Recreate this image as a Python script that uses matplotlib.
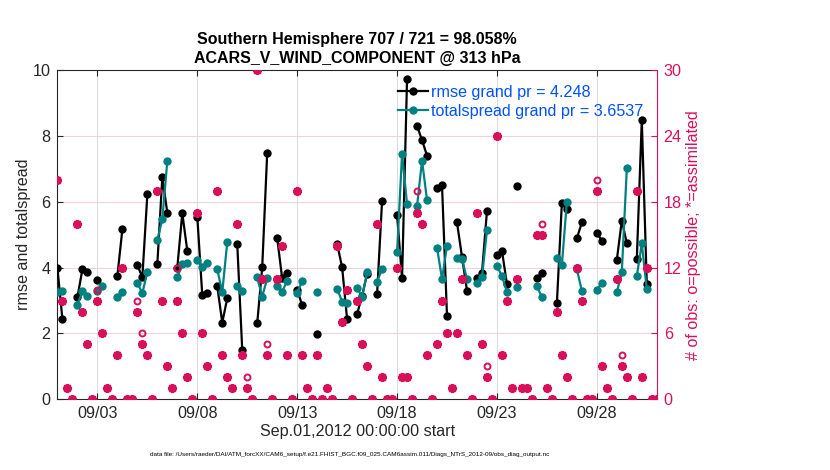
import numpy as np
import pandas as pd
import matplotlib
matplotlib.use("Agg")
import matplotlib.pyplot as plt
import matplotlib.dates as mdates

plt.rcParams['font.family'] = ['Liberation Sans', 'DejaVu Sans']

nan = np.nan

# 6-hourly bins, Sep 1 00Z .. Oct 1 00Z
times = pd.date_range("2012-09-01 00:00", "2012-10-01 00:00", freq="6h")

rmse = [
    3.98, 2.43, nan, nan, 3.10, 3.95, 3.88, nan, 3.62, nan,
    nan, nan, 3.75, 5.16, nan, nan, 4.08, 3.70, 6.22, nan,
    4.11, 6.74, 5.67, nan, 4.00, 5.65, 4.51, nan, 5.55, 3.16,
    3.22, nan, 3.44, 2.33, 3.07, nan, 4.72, 1.50, nan, nan,
    2.31, 4.01, 7.49, nan, 4.89, 3.67, 3.85, nan, 3.32, 2.86,
    nan, nan, 1.98, nan, nan, nan, 4.72, 4.01, 2.43, nan,
    2.59, 3.15, 3.80, nan, 3.19, 6.03, nan, nan, 5.60, 3.67,
    9.73, nan, 8.30, 7.87, 7.40, nan, 6.41, 6.50, 2.53, nan,
    5.37, 4.33, 3.30, nan, 3.67, 3.83, 5.72, nan, 4.38, 4.51,
    3.50, nan, 6.48, nan, nan, nan, 3.67, 3.85, nan, nan,
    2.92, 5.97, 5.77, nan, 4.89, 5.37, nan, nan, 5.06, 4.81,
    nan, nan, 4.23, 5.43, 4.74, nan, 4.25, 8.48, 3.50, nan,
    nan,
]

totalspread = [
    3.25, 3.29, nan, nan, 2.86, 3.30, 3.14, nan, 3.30, 3.44,
    nan, nan, 3.10, 3.27, nan, nan, 3.54, 3.22, 3.87, nan,
    4.84, 5.47, 7.24, nan, 3.70, 4.11, 4.13, nan, 4.23, 4.01,
    4.15, nan, 3.95, 3.25, 4.77, nan, 3.44, 3.29, nan, nan,
    3.70, 3.12, 3.67, nan, 3.45, 3.27, 3.60, nan, 3.22, 3.59,
    nan, nan, 3.25, nan, nan, nan, 3.36, 2.96, 2.92, nan,
    3.39, 3.10, 3.86, nan, 3.57, 3.96, nan, nan, 4.46, 7.45,
    5.93, nan, 5.87, 7.25, 6.05, nan, 4.61, 3.65, 4.67, nan,
    4.28, 4.27, 3.64, nan, 3.54, 3.70, 5.14, nan, 4.05, 3.74,
    3.27, nan, 3.40, nan, nan, nan, 3.44, 3.10, nan, nan,
    4.28, 4.08, 6.00, nan, 3.95, 3.29, nan, nan, 3.32, 3.54,
    nan, nan, 3.25, 3.86, 7.01, nan, 3.74, 4.74, 3.34, nan,
    nan,
]

nposs = [
    20, 9, 1, 0, 16, 8, 5, 0, 10, 6,
    1, 0, 4, 12, 0, 0, 9, 6, 4, 0,
    19, 9, 3, 1, 12, 6, 2, 0, 17, 6,
    3, 0, 19, 4, 2, 1, 16, 4, 2, 0,
    30, 11, 5, 0, 11, 14, 4, 0, 19, 4,
    1, 0, 4, 0, 1, 0, 14, 7, 10, 0,
    9, 5, 3, 0, 16, 2, 0, 0, 12, 2,
    2, 0, 19, 16, 4, 0, 5, 9, 6, 1,
    6, 11, 4, 0, 17, 5, 3, 0, 24, 4,
    9, 1, 11, 1, 1, 0, 15, 16, 1, 0,
    8, 4, 2, 0, 12, 9, 0, 0, 20, 3,
    1, 0, 11, 4, 2, 0, 19, 2, 12, 0,
    0,
]

nused = [
    20, 9, 1, 0, 16, 8, 5, 0, 9, 6,
    1, 0, 4, 12, 0, 0, 8, 5, 4, 0,
    19, 9, 3, 1, 9, 6, 2, 0, 17, 6,
    3, 0, 19, 4, 2, 1, 16, 4, 1, 0,
    30, 11, 4, 0, 11, 14, 4, 0, 19, 4,
    1, 0, 4, 0, 1, 0, 14, 7, 10, 0,
    9, 5, 3, 0, 16, 2, 0, 0, 12, 2,
    2, 0, 17, 16, 4, 0, 5, 9, 6, 1,
    6, 11, 4, 0, 17, 5, 2, 0, 24, 4,
    9, 1, 11, 1, 1, 0, 15, 15, 1, 0,
    8, 4, 2, 0, 12, 9, 0, 0, 19, 3,
    1, 0, 11, 3, 2, 0, 19, 2, 12, 0,
    0,
]

rmse_grand = 4.248
spread_grand = 3.6537

PINK = '#D6115A'
TEAL = '#008080'
LEGBLUE = '#0050FF'
TXT = '#262626'
FS = 11.6

fig = plt.figure(figsize=(8.3, 4.7), dpi=100)
ax = fig.add_axes([0.0692, 0.1504, 0.7221, 0.7006])
ax2 = ax.twinx()

ax.plot(times, rmse, '-o', color='black', lw=1.6, ms=5.0, zorder=3,
        label=f'rmse grand pr = {rmse_grand}')
ax.plot(times, totalspread, '-o', color=TEAL, lw=1.6, ms=5.0, zorder=3,
        label=f'totalspread grand pr = {spread_grand}')

ax2.plot(times, nposs, 'o', ls='none', mfc='none', mec=PINK, mew=1.4, ms=4.3)
ax2.plot(times, nused, marker=(8, 2, 0), ls='none', mec=PINK, mfc=PINK, mew=1.7, ms=6.5)

ax.set_xlim(times[0], times[-1])
ax.set_ylim(0, 10)
ax2.set_ylim(0, 30)
ax.set_yticks(np.arange(0, 11, 2))
ax2.set_yticks(np.arange(0, 31, 6))

ax.xaxis.set_major_locator(mdates.DayLocator(bymonthday=[3, 8, 13, 18, 23, 28]))
ax.xaxis.set_major_formatter(mdates.DateFormatter('%m/%d'))

# grids: vertical grey, horizontal pink (from the count axis)
ax.grid(axis='x', color='#DCDCDC', lw=0.8)
for v in [2, 4, 6, 8]:
    ax.axhline(v, color='#F0D2DE', lw=0.8, zorder=0)
ax.set_axisbelow(True)

ax.tick_params(axis='both', direction='in', labelsize=FS, colors=TXT, length=4,
               top=True, pad=5)
ax.tick_params(axis='x', pad=5)
ax2.tick_params(axis='y', direction='in', labelsize=FS, colors=PINK, length=4, pad=5)
for s in ['left', 'bottom', 'top']:
    ax.spines[s].set_color(TXT)
ax.spines['right'].set_visible(False)
ax2.spines['right'].set_color(PINK)
for s in ['left', 'bottom', 'top']:
    ax2.spines[s].set_visible(False)

ax.set_ylabel('rmse and totalspread', fontsize=FS, color=TXT, labelpad=1)
ax2.set_ylabel('# of obs: o=possible; *=assimilated', fontsize=FS, color=PINK, labelpad=3)
ax.set_xlabel('Sep.01,2012 00:00:00 start', fontsize=FS, color=TXT, labelpad=2)

ax.set_title('Southern Hemisphere 707 / 721 = 98.058%\nACARS_V_WIND_COMPONENT @ 313 hPa',
             fontsize=11.5, fontweight='bold', pad=5, linespacing=1.38)

leg = ax.legend(loc='upper right', bbox_to_anchor=(0.977, 0.955), frameon=False,
                fontsize=FS, labelcolor=LEGBLUE, borderpad=0, borderaxespad=0,
                handlelength=1.9, handletextpad=0.15, labelspacing=0.25)
leg.set_zorder(10)

fig.text(0.421, 0.030,
         'data file: /Users/raeder/DAI/ATM_forcXX/CAM6_setup/f.e21.FHIST_BGC.f09_025.CAM6assim.011/Diags_NTrS_2012-09/obs_diag_output.nc',
         ha='center', fontsize=4.6, color='black')

fig.savefig('out.png', dpi=100)
